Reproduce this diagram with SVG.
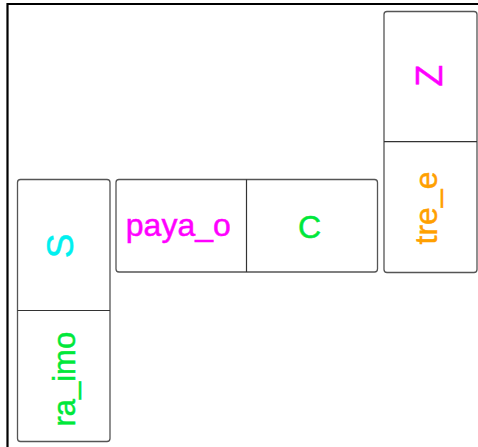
<svg xmlns="http://www.w3.org/2000/svg" width="478" height="447" viewBox="0 0 478 447">
<style>
.box{fill:#fff;stroke:#555;stroke-width:1.3}
.div{stroke:#333;stroke-width:1.2}
text{font-family:"Liberation Sans",Arial,sans-serif;text-anchor:middle;stroke-width:0.5}
</style>
<rect x="0" y="0" width="478" height="447" fill="#fff"/>
<path d="M7.5 460 V4 H490" fill="none" stroke="#000" stroke-width="2.2"/>
<g id="node-left">
<rect class="box" x="17.5" y="179.5" width="92.5" height="262" rx="3"/>
<line class="div" x1="17.5" y1="310.5" x2="110" y2="310.5"/>
<text transform="translate(72.5,246) rotate(-90)" font-size="37" fill="#00F0F0" stroke="#00F0F0">S</text>
<text transform="translate(75,379.2) rotate(-90)" font-size="31" fill="#00E83A" stroke="#00E83A">ra_imo</text>
</g>
<g id="node-middle">
<rect class="box" x="116" y="179.5" width="261.5" height="92.5" rx="3"/>
<line class="div" x1="246.5" y1="179.5" x2="246.5" y2="272"/>
<text x="178.3" y="236" font-size="32" fill="#FF00FF" stroke="#FF00FF">paya_o</text>
<text x="309.5" y="238" font-size="32" fill="#00E83A" stroke="#00E83A">C</text>
</g>
<g id="node-right">
<rect class="box" x="384" y="11.5" width="93" height="261" rx="3"/>
<line class="div" x1="384" y1="141.7" x2="477" y2="141.7"/>
<text transform="translate(441.7,75.8) rotate(-90)" font-size="36" fill="#FF00FF" stroke="#FF00FF">Z</text>
<text transform="translate(437.3,208) rotate(-90)" font-size="32" fill="#FFA000" stroke="#FFA000">tre_e</text>
</g>
<g id="connectors"></g>
</svg>
